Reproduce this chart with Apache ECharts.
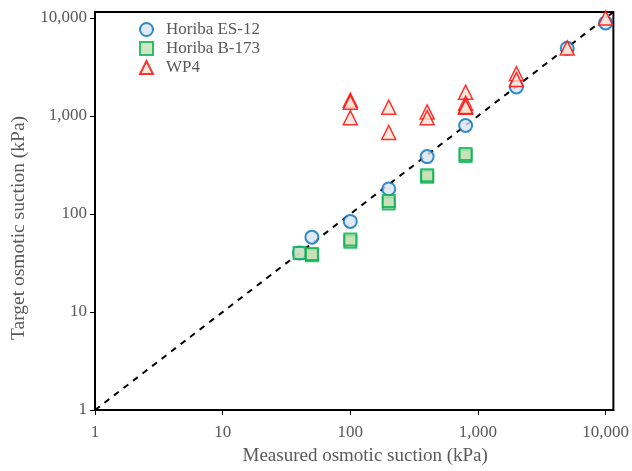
<!DOCTYPE html>
<html><head><meta charset="utf-8">
<script src="https://cdn.jsdelivr.net/npm/echarts@6/dist/echarts.min.js"></script>
<style>html,body{margin:0;padding:0;background:#fff}#c{width:632px;height:471px}</style>
</head><body><div id="c"></div>
<script>
const seriesNames = ['Horiba ES-12', 'Horiba B-173', 'WP4'];
const es12Measured = [40, 50, 100, 200, 400, 800, 2000, 5000, 10000];
const es12Target   = [40, 58, 84, 180, 385, 800, 1980, 4900, 8900];
const b173Measured = [40, 50, 50, 100, 100, 200, 200, 400, 400, 800, 800];
const b173Target   = [40, 38, 39, 52, 55, 128, 136, 240, 248, 390, 410];
const wp4Measured  = [100, 100, 100, 200, 200, 400, 400, 800, 800, 800, 800, 2000, 2000, 5000, 10000];
const wp4Target    = [1450, 1380, 960, 1230, 680, 1100, 960, 1750, 1350, 1230, 1250, 2700, 2350, 4950, 10000];
const lineX = [1, 11500];
const lineY = [1, 11500];
const xTickLabels = ['1', '10', '100', '1,000', '10,000'];
const yTickLabels = ['1', '10', '100', '1,000', '10,000'];

function zip(a, b) { return a.map((v, i) => [v, b[i]]); }
function fmt(v) {
  const r = Math.round(v);
  const s = r.toLocaleString('en-US');
  return xTickLabels.indexOf(s) >= 0 ? s : '';
}
const font = 'Liberation Serif';
const gray = '#595959';
const chart = echarts.init(document.getElementById('c'));
chart.setOption({
  animation: false,
  textStyle: { fontFamily: font },
  grid: { left: 95, right: 17, top: 12, bottom: 48, show: true, borderColor: '#000', borderWidth: 2, backgroundColor: 'transparent' },
  legend: {
    left: 134, top: 16, orient: 'vertical', itemGap: 2, itemWidth: 13, itemHeight: 13,
    textStyle: { fontFamily: font, fontSize: 17, color: gray, padding: [0, 0, 0, 8] },
    data: seriesNames
  },
  xAxis: {
    type: 'log', logBase: 10, min: 1, max: 11500,
    name: 'Measured osmotic suction (kPa)', nameLocation: 'middle', nameGap: 37,
    nameTextStyle: { fontFamily: font, fontSize: 19, color: gray, padding: [0, 0, 0, 22] },
    axisLine: { lineStyle: { color: '#000', width: 2 } },
    axisTick: { show: true, inside: false, length: 5, lineStyle: { color: '#000', width: 1 } },
    axisLabel: { fontFamily: font, fontSize: 17, color: gray, margin: 14, formatter: fmt, showMaxLabel: false },
    splitLine: { show: false }, minorTick: { show: false }
  },
  yAxis: {
    type: 'log', logBase: 10, min: 1, max: 11500,
    name: 'Target osmotic suction (kPa)', nameLocation: 'middle', nameGap: 64,
    nameTextStyle: { fontFamily: font, fontSize: 19.5, color: gray, padding: [0, 34, 0, 0] },
    axisLine: { lineStyle: { color: '#000', width: 2 } },
    axisTick: { show: true, inside: false, length: 5, lineStyle: { color: '#000', width: 1 } },
    axisLabel: { fontFamily: font, fontSize: 17, color: gray, margin: 8, formatter: fmt, showMaxLabel: false },
    splitLine: { show: false }
  },
  series: [
    {
      name: 'Horiba ES-12', type: 'scatter', symbol: 'circle', symbolSize: 13, z: 3,
      itemStyle: { color: '#dae3f3', borderColor: '#0070c0', borderWidth: 2 },
      data: zip(es12Measured, es12Target)
    },
    {
      name: 'Horiba B-173', type: 'scatter', symbol: 'rect', symbolSize: 12, z: 4,
      itemStyle: { color: '#c5e0b4', borderColor: '#00b050', borderWidth: 2 },
      data: zip(b173Measured, b173Target)
    },
    {
      name: 'WP4', type: 'scatter', symbol: 'triangle', symbolSize: 14, z: 5,
      itemStyle: { color: '#fbe5d6', borderColor: '#ff0000', borderWidth: 1.5 },
      data: zip(wp4Measured, wp4Target)
    },
    {
      name: '1:1', type: 'line', z: 2, symbol: 'none', silent: true,
      lineStyle: { color: '#000', width: 2, type: [6, 6] },
      data: zip(lineX, lineY)
    }
  ]
});
</script></body></html>
